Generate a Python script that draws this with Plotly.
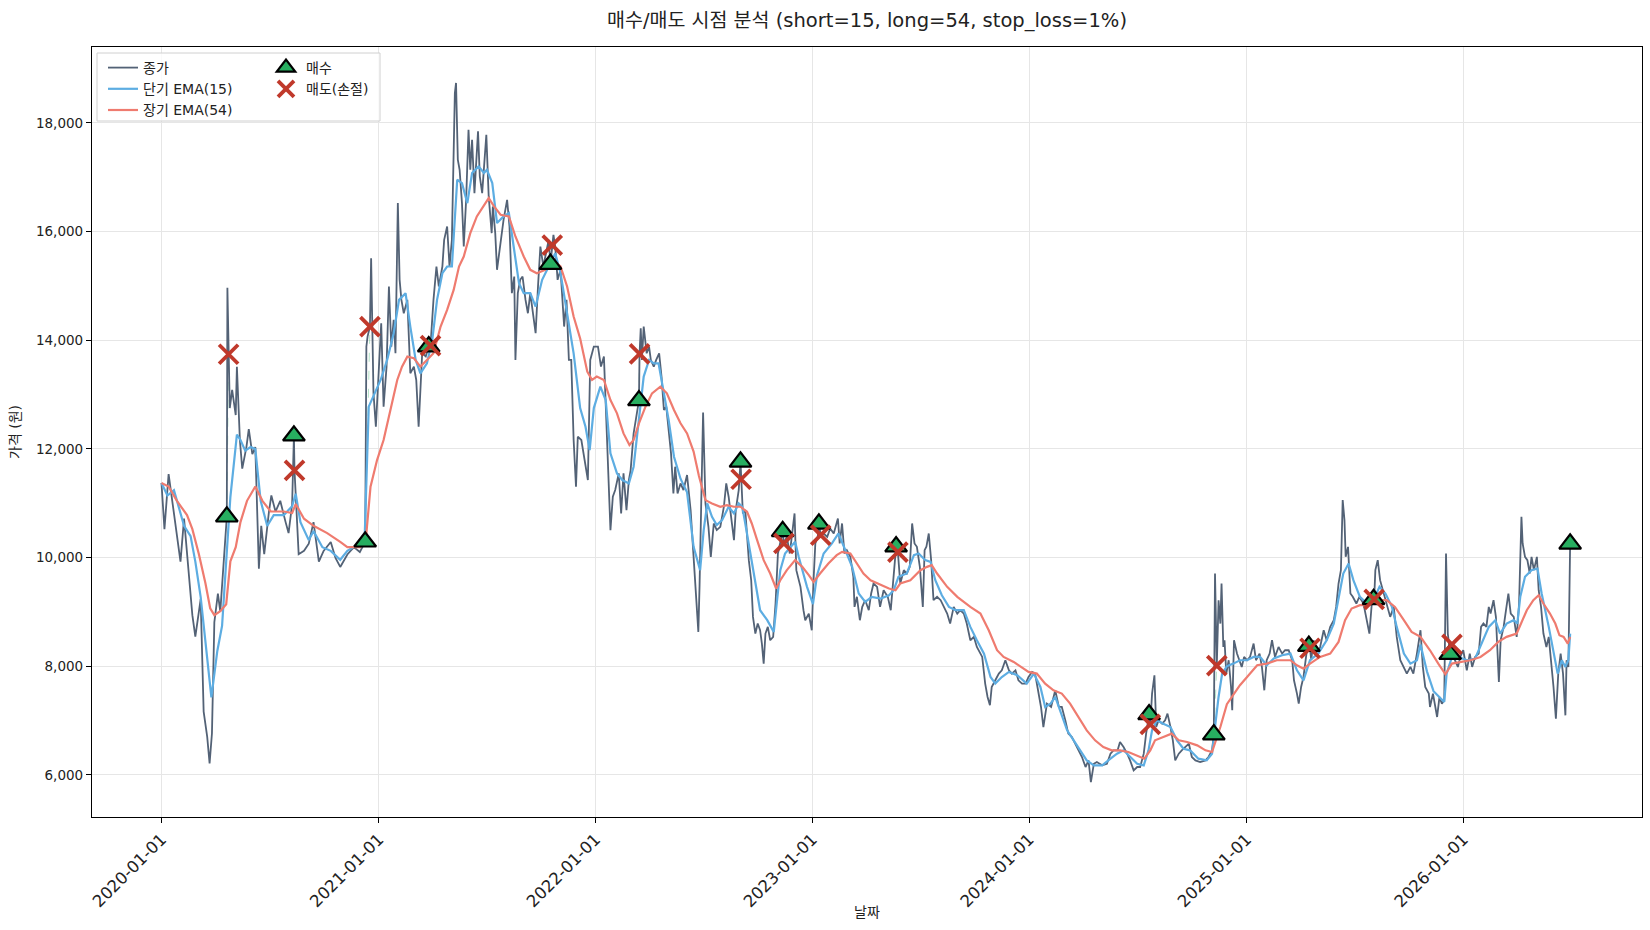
import pandas as pd
import plotly.graph_objects as go

BASE = "2020-01-01"

# ---- data (day offsets from 2020-01-01, values in won) ----
close_days = [0,5,12,21,32,38,52,57,66,71,77,81,85,89,95,99,104,110,111,113,115,119,125,127,132,136,143,147,153,158,164,168,173,181,185,192,200,209,214,220,223,224,226,231,240,248,256,265,273,285,293,301,313,324,334,
343,345,347,351,353,355,357,361,366,370,374,379,383,387,391,394,398,401,404,408,414,419,425,429,433,439,445,450,453,458,463,467,473,476,481,485,489,494,496,499,502,506,509,513,517,520,523,527,533,536,540,544,547,551,556,558,562,565,570,574,576,582,586,590,594,596,600,604,608,613,617,621,625,630,634,638,643,647,652,655,658,660,663,667,672,675,678,682,686,690,694,698,701,707,711,718,722,728,735,738,
740,745,749,753,756,760,764,770,774,778,783,787,790,795,800,804,805,807,809,812,817,821,824,829,833,838,842,846,850,854,858,862,865,869,
874,879,885,891,896,900,904,906,909,912,916,921,925,930,935,941,947,951,955,959,964,967,972,975,976,979,983,989,993,996,1000,1004,1008,1011,1014,1017,1021,1025,1030,1034,1038,1046,1048,1053,1058,1062,1066,1069,1073,
1076,1081,1084,1090,1095,1098,1101,1105,1107,1110,1115,1121,1126,1132,1139,1142,1146,1150,1154,1160,1165,1167,1171,1176,1180,1185,1191,1195,1199,1205,1210,1216,1223,1228,1233,1237,1240,1244,1250,1255,1260,1264,1268,1272,1277,1282,1285,1288,1292,1296,1300,1306,1312,1317,1323,1328,1334,1340,1345,1351,1356,1362,1368,1373,1382,1387,1391,1395,1398,1404,1410,1415,1421,1427,1432,1438,1443,
1449,1455,1460,1466,1471,1477,1481,1485,1491,1498,1505,1511,1516,1522,1527,1533,1539,1544,1550,1556,1561,1565,1570,1575,1584,1592,1598,1603,1610,1614,1620,1626,1631,1637,1643,1648,1654,1658,1663,1665,1668,1672,1675,1679,1685,1690,1694,1699,1703,1707,1713,1718,1724,1730,1735,1741,1749,1758,1763,1769,1772,1774,1777,1780,1783,
1785,1788,1790,1793,1797,1801,1803,1806,1811,1815,1819,1823,1828,1833,1839,1843,1849,1853,1857,1861,1866,1870,1875,1881,1887,1892,1898,1904,1907,1912,1915,1919,1923,1928,1932,1934,1936,1940,1946,1951,1957,1962,1968,1974,1978,1982,1986,1989,1992,1994,1998,2002,2006,2012,2017,2024,2030,2034,2038,2041,2042,2044,2048,2052,2058,2063,2069,2075,2080,2086,2092,2097,2103,2108,2114,
2120,2124,2128,2134,2136,2141,2145,2148,2152,2156,2160,2163,2166,2170,2173,2178,2183,2187,2192,2198,2203,2207,2212,2218,2222,2226,2231,2235,2238,2243,2247,2252,2255,2260,2264,2268,2272,2277,2282,2286,2290,2292,2296,2300,2304,2307,2311,2316,2319,2323,2327,2332,2336,2340,2344,2348,2352,2356,2360,2364,2366,2369,2372]
close_vals = [11370,10522,11535,10846,9925,10714,8938,8543,9232,7162,6700,6210,6764,8808,9333,9004,9792,10750,14962,13740,12751,13083,12622,13510,12162,11635,12032,12364,11904,12032,9792,10583,10061,10846,11141,10846,11043,10651,10449,10983,12241,11602,11111,10061,10122,10253,10651,9925,10122,10286,9990,9826,10056,10190,10100,
10290,13881,14066,14250,15509,14250,13022,12407,13390,14311,12776,13513,14987,13881,14373,13758,16522,15110,14741,14495,14741,13390,13513,13267,12407,13758,13700,13880,13900,14741,15355,14987,15355,15846,16092,15355,15846,18548,18733,17320,17136,16522,15723,16583,17873,17136,17689,16706,17842,17013,16706,17382,17781,16645,15969,16461,15969,15294,15723,16092,16215,16583,16092,14864,15171,13636,14864,15110,15171,14741,14495,14864,14495,14127,14987,15723,15355,15600,15846,15400,15750,15938,15723,15110,15294,14741,14250,14741,13636,13636,12162,11302,12223,12162,11916,11425,13636,13881,13881,13636,
13513,13697,12407,11486,10504,11118,11241,11548,10811,11548,10872,11425,11609,12284,12600,12890,13746,14219,13636,14250,13758,13881,13636,13513,13636,13758,13329,12714,12776,12284,11916,11179,11671,11179,
11363,11241,11517,10872,10012,9275,8631,9460,11118,12670,10995,10565,10012,10626,10504,10565,10934,11363,11118,10749,10319,10872,11241,11760,11440,10811,10872,9951,9582,8907,8600,8784,8661,8416,8047,8600,8723,8477,8539,9153,10074,10480,10260,10381,10074,10504,10811,9767,9582,
9460,9030,8845,8968,8661,9582,10258,10381,10620,10410,10442,10381,10534,10442,10718,10258,10626,10074,10135,10012,9644,9091,9276,8845,9091,9214,9030,9337,9521,9460,9091,9398,9276,9030,9705,10200,10100,9521,9767,9705,9828,10626,10258,10197,9828,9091,10135,10197,10442,9951,9214,9276,9214,9091,8968,8784,9091,8968,9030,8968,8784,8477,8539,8354,8170,7679,7433,7280,7617,7740,7863,7924,8109,7924,7863,7924,7740,
7679,7679,7802,7894,7863,7495,7249,6880,7310,7249,7556,7249,7249,7003,6758,6696,6573,6451,6328,6144,6266,5867,6205,6236,6174,6205,6389,6451,6451,6604,6512,6389,6266,6082,6144,6144,6389,6758,7110,6930,7495,7832,6880,7003,6942,7003,7126,6880,6635,6266,6389,6451,6512,6573,6328,6266,6236,6266,6328,6451,6740,9705,8011,9214,8784,
9521,8354,8477,7863,8109,7617,7188,8477,8232,8109,7986,8170,8109,8170,8416,8109,8232,7986,7556,8109,8232,8477,8170,8354,8232,8293,8293,8109,7740,7495,7310,7617,7801,8232,8370,8330,8109,8477,8170,8354,8661,8477,8723,8846,9091,9521,9767,11056,10688,10012,10196,9337,9276,9153,9276,9153,8846,8600,9153,9230,9230,9767,9951,9583,9337,9153,8907,9091,8539,8109,7986,7863,7986,7863,8232,
8661,7986,7617,7495,7249,7495,7249,7065,7433,7310,7372,10074,8600,8220,8400,8109,7986,8170,8293,7924,8232,7986,8170,8232,8723,8784,8723,9091,8968,9214,8907,7709,8477,8723,9030,9337,8968,8907,8539,9153,10749,10258,10012,9951,9705,10012,9767,10012,9398,9091,8600,8354,8539,8109,7617,7034,7863,8232,7863,7095,8109,7986,10250]

short_days = [0,10,21,38,49,57,66,77,84,94,102,109,116,127,133,141,150,158,167,178,189,206,220,226,234,248,256,271,285,301,313,329,342,349,357,369,380,391,400,411,419,428,436,447,456,464,473,481,489,498,506,515,523,534,543,548,557,565,576,585,593,602,610,621,630,641,652,663,672,683,694,705,714,721,728,739,748,756,767,776,787,795,804,812,821,829,837,846,854,863,874,885,896,907,913,919,927,935,944,955,964,972,978,983,992,1000,1008,1020,1031,1036,1042,1050,1059,1067,1073,1087,1097,1104,1115,1129,1140,1152,1163,1174,1185,1196,1211,1225,1233,1241,1255,1267,1275,1286,1295,1303,1314,1326,1337,1351,1362,1373,1385,1396,1404,1415,1427,1441,1457,1469,1480,1488,1497,1505,1513,1525,1536,1547,1558,1570,1584,1598,1609,1620,1631,1643,1654,1662,1668,1676,1687,1699,1710,1721,1732,1746,1760,1769,1774,1780,1786,1794,1805,1816,1828,1839,1850,1861,1873,1887,1901,1912,1923,1934,1948,1962,1974,1982,1990,1999,2007,2018,2030,2041,2051,2061,2072,2080,2092,2103,2114,2120,2131,2142,2153,2160,2164,2173,2184,2198,2212,2223,2235,2246,2254,2265,2277,2283,2288,2296,2307,2317,2324,2336,2344,2351,2358,2364,2369,2372]
short_vals = [11370,11141,11240,10583,10394,9925,9270,8090,7425,8280,8740,9930,11111,12261,12162,11965,12032,11996,11043,10583,10780,10780,10945,11174,10651,10320,10485,10190,10122,9958,10122,10227,10320,12776,12960,13267,13636,14127,14741,14864,14250,13636,13390,13574,14004,14741,15232,15355,15355,16952,16890,16522,17075,17197,17075,17136,16890,16154,16276,16338,15723,15048,14864,14864,14618,15110,15355,15600,15232,14495,13758,12750,12407,11977,12750,13144,12899,11916,11548,11425,11363,11671,12530,13329,13636,13574,13574,13021,12530,11855,11450,11200,10197,9767,10504,10995,10749,10596,10688,10934,10811,10995,10934,10626,10074,9521,9030,8846,8631,9153,9767,10074,10197,10289,10012,9460,9140,9680,10074,10258,10442,10135,9828,9337,9183,9276,9245,9306,9398,9644,9705,10043,10074,9951,9920,9582,9306,9091,9030,9030,8723,8477,8231,7801,7679,7801,7894,7832,7679,7863,7618,7249,7310,7433,7188,6819,6635,6451,6266,6174,6174,6297,6389,6451,6328,6205,6174,6451,6819,7003,6942,6880,6635,6481,6451,6297,6266,6389,6880,7433,7863,8000,8047,8109,8109,8170,8170,8016,8140,8201,8232,7924,7740,8109,8232,8477,8784,9214,9705,9890,9583,9276,9153,9214,9460,9337,9091,8723,8232,8047,8109,8400,7900,7540,7410,7341,7863,8170,8170,8109,8140,8416,8723,8846,8600,8784,8846,8784,9276,9644,9767,9797,9337,8723,8232,7863,8109,7986,8109,8600]

long_days = [0,12,26,43,52,63,74,82,89,99,109,116,125,133,144,158,170,184,206,220,226,240,256,279,301,313,335,345,352,363,374,386,397,405,414,425,436,447,458,470,481,492,501,509,520,531,543,551,560,571,585,596,610,621,632,646,658,672,683,694,705,717,725,733,745,756,767,778,788,795,804,815,826,840,851,863,874,885,896,905,916,927,941,952,964,975,986,994,1003,1014,1025,1035,1042,1053,1067,1079,1090,1098,1109,1123,1137,1146,1160,1171,1182,1194,1211,1225,1236,1244,1261,1278,1289,1297,1306,1323,1340,1362,1379,1393,1407,1418,1435,1452,1460,1474,1488,1502,1516,1530,1544,1558,1572,1586,1600,1614,1628,1643,1655,1665,1673,1687,1701,1713,1727,1744,1758,1769,1774,1783,1794,1805,1816,1828,1845,1861,1878,1901,1912,1923,1934,1951,1968,1982,1993,2004,2018,2033,2047,2063,2077,2092,2105,2120,2136,2150,2162,2173,2187,2204,2221,2237,2251,2265,2282,2291,2299,2310,2319,2327,2338,2347,2354,2361,2368,2372]
long_vals = [11370,11307,11043,10780,10522,10061,9527,9065,8938,9012,9140,9930,10190,10651,11043,11307,11043,10846,10846,10817,10983,10714,10583,10449,10286,10190,10190,10442,11302,11793,12162,12714,13267,13513,13697,13667,13513,13636,13758,14250,14557,14925,15355,15539,15969,16276,16491,16614,16461,16307,16276,15908,15539,15294,15232,15294,15478,15355,14987,14434,14030,13420,13267,13329,13267,12899,12653,12284,12070,12162,12469,12776,13021,13144,13021,12714,12469,12284,11950,11500,11056,10995,10934,10964,10934,10934,10841,10626,10319,9951,9705,9429,9582,9767,9951,9828,9675,9552,9705,9890,10043,10104,10074,9890,9705,9582,9490,9429,9398,9521,9582,9767,9828,9859,9705,9460,9276,9091,8968,8661,8293,8170,8078,7955,7894,7863,7679,7556,7495,7310,7065,6819,6635,6512,6451,6451,6420,6358,6297,6451,6635,6696,6758,6635,6604,6543,6451,6420,6573,6880,7300,7480,7650,7800,8016,8047,8109,8109,8016,7955,8047,8170,8232,8446,8846,9060,9122,9122,9214,9214,9091,8846,8630,8539,8293,8047,7850,8047,8078,8109,8170,8293,8446,8539,8600,8846,9030,9214,9306,9153,8968,8784,8569,8539,8416,8539]

buy_days = [110,223,343,450,655,804,975,1046,1107,1237,1663,1772,1932,2041,2170,2372]
buy_vals = [10750,12241,10290,13880,15400,12890,11760,10480,10620,10200,7110,6740,8370,9230,8220,10250]
sell_days = [113,224,351,453,658,805,976,1048,1110,1240,1665,1777,1934,2042,2173]
sell_vals = [13740,11602,14250,13900,15750,13746,11440,10260,10410,10100,6930,8011,8330,9230,8400]

y_ticks = [6000, 8000, 10000, 12000, 14000, 16000, 18000]
x_ticks = ["2020-01-01", "2021-01-01", "2022-01-01", "2023-01-01", "2024-01-01", "2025-01-01", "2026-01-01"]

title = "매수/매도 시점 분석 (short=15, long=54, stop_loss=1%)"
x_title = "날짜"
y_title = "가격 (원)"


def to_dates(days):
    return pd.Timestamp(BASE) + pd.to_timedelta(days, unit="D")


FONT = "DejaVu Sans, Noto Sans CJK KR, sans-serif"

fig = go.Figure()

# trade connection lines (buy -> sell)
tx, ty = [], []
for bd, bv, sd, sv in zip(buy_days, buy_vals, sell_days, sell_vals):
    tx += [to_dates([bd])[0], to_dates([sd])[0], None]
    ty += [bv, sv, None]
fig.add_trace(go.Scatter(x=tx, y=ty, mode="lines", showlegend=False, hoverinfo="skip",
                         line=dict(color="rgba(39,174,96,0.35)", width=1, dash="dash")))

fig.add_trace(go.Scatter(x=to_dates(close_days), y=close_vals, mode="lines", name="종가",
                         line=dict(color="#536276", width=1.8), legend="legend"))
fig.add_trace(go.Scatter(x=to_dates(short_days), y=short_vals, mode="lines", name="단기 EMA(15)",
                         line=dict(color="#5dade2", width=2.2), legend="legend"))
fig.add_trace(go.Scatter(x=to_dates(long_days), y=long_vals, mode="lines", name="장기 EMA(54)",
                         line=dict(color="#ef7b6f", width=2.2), legend="legend"))
fig.add_trace(go.Scatter(x=to_dates(buy_days), y=buy_vals, mode="markers", name="매수",
                         marker=dict(symbol="triangle-up", size=19, color="#27ae60",
                                     line=dict(color="black", width=2.2)), legend="legend2"))
fig.add_trace(go.Scatter(x=to_dates(sell_days), y=sell_vals, mode="markers", name="매도(손절)",
                         marker=dict(symbol="x-thin", size=19, color="#c0392b",
                                     line=dict(color="#c0392b", width=3.8)), legend="legend2"))

L, R, T, B = 92, 8, 47, 113
W, H = 1650, 930
pw, ph = W - L - R, H - T - B

def px_x(X):
    return (X - L) / pw

def px_y(Y):
    return 1 - (Y - T) / ph

fig.update_layout(
    width=W, height=H,
    margin=dict(l=L, r=R, t=T, b=B, autoexpand=False),
    paper_bgcolor="white", plot_bgcolor="white",
    font=dict(family=FONT, size=13, color="#222222"),
    title=dict(text=title, xref="paper", x=0.5, xanchor="center", y=1 - 20 / H, yanchor="middle",
               font=dict(family=FONT, size=19.5, color="#222222")),
    legend=dict(x=px_x(103), y=px_y(52), xanchor="left", yanchor="top",
                bgcolor="rgba(0,0,0,0)", font=dict(size=14, family=FONT),
                tracegroupgap=0, itemwidth=30),
    legend2=dict(x=px_x(266), y=px_y(52), xanchor="left", yanchor="top",
                 bgcolor="rgba(0,0,0,0)", font=dict(size=14, family=FONT),
                 tracegroupgap=0, itemwidth=30),
    shapes=[dict(type="rect", xref="paper", yref="paper",
                 x0=px_x(97), x1=px_x(380), y0=px_y(121), y1=px_y(53),
                 fillcolor="rgba(255,255,255,0.8)", line=dict(color="#d0d0d0", width=1),
                 layer="above")],
    annotations=[
        dict(text=x_title, xref="paper", yref="paper", x=0.5, y=px_y(912),
             xanchor="center", yanchor="middle", showarrow=False,
             font=dict(size=14, family=FONT, color="#222222")),
    ],
)

fig.update_xaxes(
    type="date",
    range=[to_dates([-117])[0], to_dates([2493])[0]],
    tickvals=x_ticks, ticktext=x_ticks, tickangle=-45,
    tickfont=dict(size=16.5, family=FONT),
    showgrid=True, gridcolor="#e6e6e6", gridwidth=1,
    showline=True, linecolor="black", linewidth=1.2, mirror=True,
    ticks="outside", ticklen=5, tickcolor="black",
    zeroline=False,
)
fig.update_yaxes(
    range=[5224, 19395],
    tickvals=y_ticks, tickformat=",d",
    tickfont=dict(size=13.5, family=FONT),
    showgrid=True, gridcolor="#e6e6e6", gridwidth=1,
    showline=True, linecolor="black", linewidth=1.2, mirror=True,
    ticks="outside", ticklen=5, tickcolor="black",
    title=dict(text=y_title, font=dict(size=14, family=FONT), standoff=12),
    zeroline=False,
)

fig.write_html("out.html")
